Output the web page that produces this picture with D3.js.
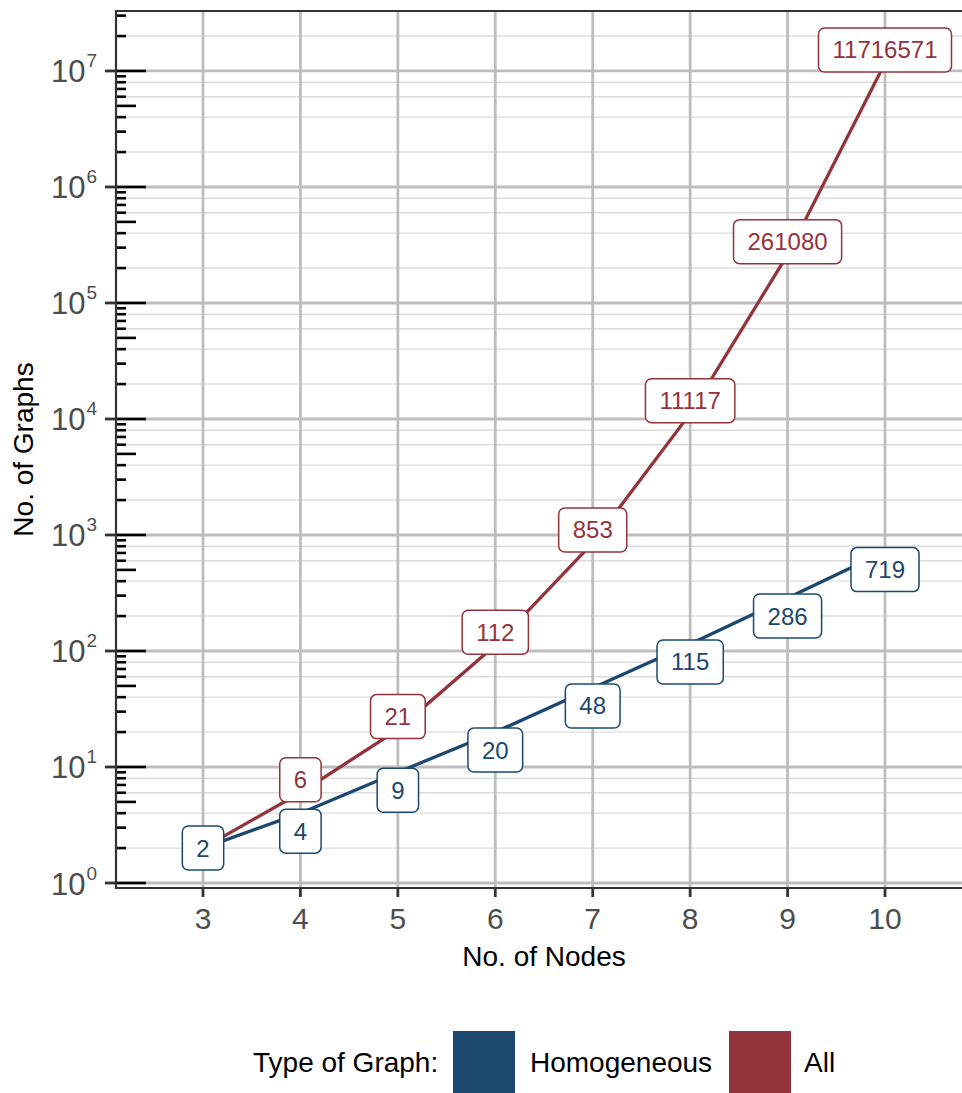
<!DOCTYPE html>
<html>
<head>
<meta charset="utf-8">
<script src="https://cdn.jsdelivr.net/npm/d3@7"></script>
<style>
  html, body { margin: 0; padding: 0; background: #ffffff; }
  svg { display: block; font-family: "Liberation Sans", Arial, Helvetica, sans-serif; }
</style>
</head>
<body>
<svg id="chart" width="962" height="1093"></svg>
<script>
// Number of distinct graphs by node count
const nodes = [3, 4, 5, 6, 7, 8, 9, 10];
const homogeneous = [2, 4, 9, 20, 48, 115, 286, 719];
const allGraphs = [2, 6, 21, 112, 853, 11117, 261080, 11716571];
const seriesNames = ["Homogeneous", "All"];
const xTicks = [3, 4, 5, 6, 7, 8, 9, 10];
const yExponents = [0, 1, 2, 3, 4, 5, 6, 7];
const legendTitle = "Type of Graph:";
const xTitle = "No. of Nodes";
const yTitle = "No. of Graphs";

const colors = { "Homogeneous": "#1c4870", "All": "#93343c" };

const svg = d3.select("#chart");
const W = 962, H = 1093;

// panel geometry
const panel = { left: 116, right: 972, top: 11, bottom: 888 };

const x = d3.scaleLinear()
  .domain([2.107, 10.893])
  .range([panel.left, panel.right]);

const y = d3.scaleLog()
  .domain([Math.pow(10, -0.0431), Math.pow(10, 7.517)])
  .range([panel.bottom, panel.top]);

const [yMin, yMax] = y.domain();

svg.append("defs").append("clipPath").attr("id", "panelClip")
  .append("rect")
  .attr("x", panel.left).attr("y", panel.top)
  .attr("width", panel.right - panel.left).attr("height", panel.bottom - panel.top);

const grid = svg.append("g").attr("clip-path", "url(#panelClip)");

// minor horizontal grid at 2,4,6,8 x 10^k
const minorGrid = [];
yExponents.forEach(k => [2, 4, 6, 8].forEach(m => {
  const v = m * Math.pow(10, k);
  if (v >= yMin && v <= yMax) minorGrid.push(v);
}));
grid.selectAll("line.minor").data(minorGrid).join("line")
  .attr("class", "minor")
  .attr("x1", panel.left).attr("x2", panel.right)
  .attr("y1", d => y(d)).attr("y2", d => y(d))
  .attr("stroke", "#dcdcdc").attr("stroke-width", 1.4);

// major horizontal grid at decades
const decades = yExponents.map(k => Math.pow(10, k));
grid.selectAll("line.major").data(decades).join("line")
  .attr("class", "major")
  .attr("x1", panel.left).attr("x2", panel.right)
  .attr("y1", d => y(d)).attr("y2", d => y(d))
  .attr("stroke", "#bdbdbd").attr("stroke-width", 2.8);

// vertical grid
grid.selectAll("line.vgrid").data(xTicks).join("line")
  .attr("class", "vgrid")
  .attr("x1", d => x(d)).attr("x2", d => x(d))
  .attr("y1", panel.top).attr("y2", panel.bottom)
  .attr("stroke", "#bdbdbd").attr("stroke-width", 2.8);

// series lines
const series = [
  { name: "Homogeneous", values: homogeneous, nudge: 18 },
  { name: "All", values: allGraphs, nudge: -13 }
];

const line = d3.line()
  .x((d, i) => x(nodes[i]))
  .y(d => y(d));

const linesG = svg.append("g").attr("clip-path", "url(#panelClip)");
series.forEach(s => {
  linesG.append("path")
    .datum(s.values)
    .attr("d", line)
    .attr("fill", "none")
    .attr("stroke", colors[s.name])
    .attr("stroke-width", 3.3);
});

// log ticks on the inside of the left edge
const logTicks = [];
yExponents.concat([8]).forEach(k => {
  for (let m = 1; m <= 9; m++) {
    const v = m * Math.pow(10, k - 1);
    if (v >= yMin && v <= yMax) logTicks.push({ v, len: m === 1 ? 30 : (m === 5 ? 20 : 10) });
  }
});
svg.append("g").selectAll("line").data(logTicks).join("line")
  .attr("x1", panel.left).attr("x2", d => panel.left + d.len)
  .attr("y1", d => y(d.v)).attr("y2", d => y(d.v))
  .attr("stroke", "#000").attr("stroke-width", 2.6);

// labels: one label per point; points shared by both series get a single centered label
const labelG = svg.append("g");
const labelItems = [];
series.forEach((s, si) => {
  s.values.forEach((v, i) => {
    const other = series[1 - si].values[i];
    if (other === v) {
      if (si === 0) labelItems.push({ name: s.name, v, i, dy: 0 });
    } else {
      labelItems.push({ name: s.name, v, i, dy: s.nudge });
    }
  });
});

labelItems.forEach(d => {
  const cx = x(nodes[d.i]);
  const cy = y(d.v) + d.dy;
  const g = labelG.append("g");
  const rect = g.append("rect");
  const t = g.append("text")
    .attr("x", cx).attr("y", cy)
    .attr("text-anchor", "middle")
    .attr("dominant-baseline", "central")
    .attr("font-size", 24)
    .attr("fill", colors[d.name])
    .text(String(d.v));
  const tw = t.node().getComputedTextLength();
  let bw = tw + 28, bh = 44;
  let bx = cx - bw / 2;
  // keep the label inside the visible area
  if (bx + bw > W - 6) {
    const shift = bx + bw - (W - 6);
    bx -= shift;
    t.attr("x", cx - shift);
  }
  rect.attr("x", bx).attr("y", cy - bh / 2)
    .attr("width", bw).attr("height", bh)
    .attr("rx", 6).attr("ry", 6)
    .attr("fill", "#ffffff")
    .attr("stroke", colors[d.name])
    .attr("stroke-width", 1.5);
});

// axis lines
const axisColor = "#333333";
svg.append("line")
  .attr("x1", panel.left).attr("x2", W)
  .attr("y1", panel.top).attr("y2", panel.top)
  .attr("stroke", axisColor).attr("stroke-width", 2.2);
svg.append("line")
  .attr("x1", panel.left).attr("x2", panel.left)
  .attr("y1", panel.top - 1).attr("y2", panel.bottom + 1)
  .attr("stroke", axisColor).attr("stroke-width", 2.2);
svg.append("line")
  .attr("x1", panel.left - 1).attr("x2", W)
  .attr("y1", panel.bottom).attr("y2", panel.bottom)
  .attr("stroke", axisColor).attr("stroke-width", 2.2);

// y axis ticks and labels
const yAxisG = svg.append("g");
yAxisG.selectAll("line").data(decades).join("line")
  .attr("x1", panel.left - 11).attr("x2", panel.left)
  .attr("y1", d => y(d)).attr("y2", d => y(d))
  .attr("stroke", axisColor).attr("stroke-width", 2.8);
yExponents.forEach(k => {
  const yy = y(Math.pow(10, k));
  const t = yAxisG.append("text")
    .attr("x", 97).attr("y", yy + 11.5)
    .attr("text-anchor", "end")
    .attr("fill", "#4d4d4d")
    .attr("font-size", 31);
  t.append("tspan").text("10");
  t.append("tspan")
    .attr("font-size", 19)
    .attr("dy", -15)
    .attr("dx", 1)
    .text(String(k));
});

// x axis ticks and labels
const xAxisG = svg.append("g");
xAxisG.selectAll("line").data(xTicks).join("line")
  .attr("x1", d => x(d)).attr("x2", d => x(d))
  .attr("y1", panel.bottom).attr("y2", panel.bottom + 9)
  .attr("stroke", axisColor).attr("stroke-width", 2.8);
xAxisG.selectAll("text").data(xTicks).join("text")
  .attr("x", d => x(d)).attr("y", 929)
  .attr("text-anchor", "middle")
  .attr("fill", "#4d4d4d")
  .attr("font-size", 30)
  .text(d => d);

// axis titles
svg.append("text")
  .attr("x", (panel.left + panel.right) / 2).attr("y", 966)
  .attr("text-anchor", "middle")
  .attr("font-size", 28)
  .attr("fill", "#000")
  .text(xTitle);
svg.append("text")
  .attr("transform", `translate(33, ${(panel.top + panel.bottom) / 2}) rotate(-90)`)
  .attr("text-anchor", "middle")
  .attr("font-size", 28)
  .attr("fill", "#000")
  .text(yTitle);

// legend
const legend = svg.append("g");
legend.append("text")
  .attr("x", 253).attr("y", 1072)
  .attr("font-size", 28).attr("fill", "#000")
  .text(legendTitle);
const keyX = [453, 729];
const labelX = [530, 804];
seriesNames.forEach((n, i) => {
  legend.append("rect")
    .attr("x", keyX[i]).attr("y", 1031)
    .attr("width", 62).attr("height", 64)
    .attr("fill", colors[n]);
  legend.append("text")
    .attr("x", labelX[i]).attr("y", 1072)
    .attr("font-size", 28).attr("fill", "#000")
    .text(n);
});
</script>
</body>
</html>
